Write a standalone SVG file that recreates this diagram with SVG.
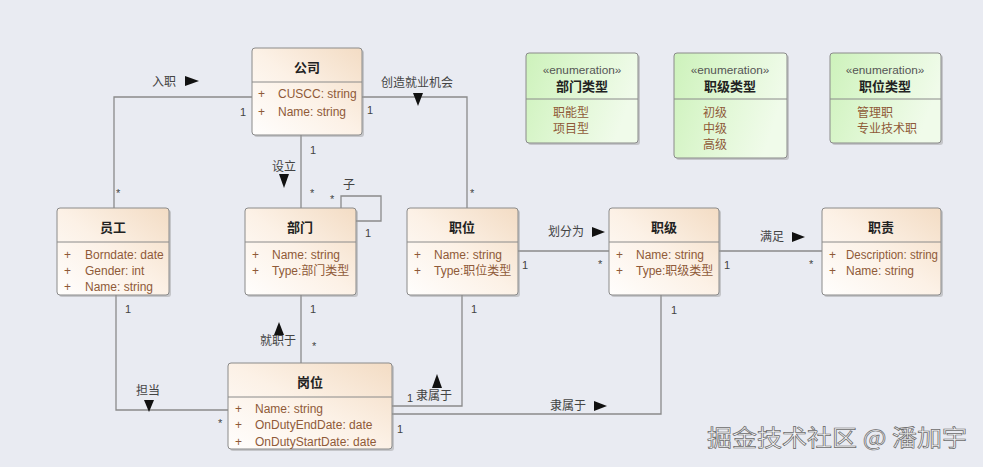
<svg xmlns="http://www.w3.org/2000/svg" width="983" height="467" viewBox="0 0 983 467">
<style>
.cls{stroke:#8a8a8a;stroke-width:1;fill:url(#gc)}
.enm{stroke:#8a8a8a;stroke-width:1;fill:url(#ge)}
.sh{fill:#9a9a9a;opacity:0.45}
.sep{stroke:#8a8a8a;stroke-width:1}
.t{font-family:'Noto Sans CJK SC','Liberation Sans',sans-serif;font-size:13px;font-weight:bold;fill:#222;text-anchor:middle}
.st{font-family:'Liberation Sans','Noto Sans CJK SC',sans-serif;font-size:11.8px;fill:#555;text-anchor:middle}
.a{font-family:'Liberation Sans','Noto Sans CJK SC',sans-serif;font-size:12px;fill:#8f5a38}
.ei{font-family:'Noto Sans CJK SC',sans-serif;font-size:12px;fill:#8f5a38}
.c{fill:none;stroke:#8a8a8a;stroke-width:1.3}
.lb{font-family:'Noto Sans CJK SC',sans-serif;font-size:12px;fill:#444}
.m{font-family:'Liberation Sans',sans-serif;font-size:11px;fill:#444}
.ar{fill:#111}
.wm{font-family:'Noto Sans CJK SC',sans-serif;font-size:23px;fill:#f6f6f8;stroke:#6a6a6a;stroke-width:0.7}
</style>
<defs>
<linearGradient id="gc" x1="0" y1="1" x2="1" y2="0">
<stop offset="0" stop-color="#fffefd"/>
<stop offset="0.5" stop-color="#fcf1e6"/>
<stop offset="1" stop-color="#f3dcc4"/>
</linearGradient>
<linearGradient id="ge" x1="0" y1="0" x2="1" y2="0.3">
<stop offset="0" stop-color="#cdf2bb"/>
<stop offset="0.6" stop-color="#e3f8d8"/>
<stop offset="1" stop-color="#f0fbea"/>
</linearGradient>
</defs>
<rect x="0" y="0" width="983" height="467" fill="#e9ebf2"/>

<g id="connectors">
<path class="c" d="M252,97 H114 V208"/>
<text class="lb" x="152" y="86">入职</text>
<polygon class="ar" points="185,76 199,81 185,86"/>
<text class="m" x="240" y="116">1</text>
<text class="m" x="116" y="197">*</text>

<path class="c" d="M362,97 H467 V208"/>
<text class="lb" x="381" y="87">创造就业机会</text>
<polygon class="ar" points="413,93 423,93 418,106"/>
<text class="m" x="367" y="114">1</text>
<text class="m" x="470" y="197">*</text>

<path class="c" d="M301,135 V208"/>
<text class="m" x="310" y="154">1</text>
<text class="lb" x="272" y="171">设立</text>
<polygon class="ar" points="279,174 289,174 284,188"/>
<text class="m" x="310" y="197">*</text>

<path class="c" d="M341,208 V196 H381 V221 H356"/>
<text class="lb" x="343" y="189">子</text>
<text class="m" x="330" y="203">*</text>
<text class="m" x="365" y="237">1</text>

<path class="c" d="M116,295 V410 H228"/>
<text class="m" x="125" y="313">1</text>
<text class="lb" x="136" y="395">担当</text>
<polygon class="ar" points="144,400 154,400 149,412"/>
<text class="m" x="218" y="427">*</text>

<path class="c" d="M301,295 V363"/>
<text class="m" x="310" y="313">1</text>
<text class="lb" x="260" y="345">就职于</text>
<polygon class="ar" points="279,322 284,335 274,335"/>
<text class="m" x="312" y="350">*</text>

<path class="c" d="M462,295 V406 H392"/>
<text class="m" x="471" y="313">1</text>
<text class="m" x="407" y="402">1</text>
<text class="lb" x="416" y="400">隶属于</text>
<polygon class="ar" points="437,374 442,388 432,388"/>

<path class="c" d="M661,295 V414 H392"/>
<text class="m" x="671" y="314">1</text>
<text class="lb" x="550" y="410">隶属于</text>
<polygon class="ar" points="594,401 607,406 594,411"/>
<text class="m" x="397" y="433">1</text>

<path class="c" d="M518,251 H609"/>
<text class="m" x="522" y="269">1</text>
<text class="m" x="598" y="268">*</text>
<text class="lb" x="548" y="236">划分为</text>
<polygon class="ar" points="592,227 605,232 592,237"/>

<path class="c" d="M719,251 H822"/>
<text class="m" x="724" y="269">1</text>
<text class="m" x="809" y="268">*</text>
<text class="lb" x="760" y="241">满足</text>
<polygon class="ar" points="792,232 805,237 792,242"/>
</g>

<g id="gongsi">
<rect class="sh" x="254" y="50" width="110" height="87" rx="3"/>
<rect class="cls" x="252" y="48" width="110" height="87" rx="3"/>
<line class="sep" x1="252" y1="82" x2="362" y2="82"/>
<text class="t" x="307" y="72">公司</text>
<text class="a" x="258" y="98">+</text><text class="a" x="278" y="98">CUSCC: string</text>
<text class="a" x="258" y="116">+</text><text class="a" x="278" y="116">Name: string</text>
</g>

<g id="yuangong">
<rect class="sh" x="59" y="210" width="112" height="87" rx="3"/>
<rect class="cls" x="57" y="208" width="112" height="87" rx="3"/>
<line class="sep" x1="57" y1="242" x2="169" y2="242"/>
<text class="t" x="113" y="232">员工</text>
<text class="a" x="64" y="259">+</text><text class="a" x="85" y="259">Borndate: date</text>
<text class="a" x="64" y="275">+</text><text class="a" x="85" y="275">Gender: int</text>
<text class="a" x="64" y="291">+</text><text class="a" x="85" y="291">Name: string</text>
</g>

<g id="bumen">
<rect class="sh" x="247" y="210" width="111" height="87" rx="3"/>
<rect class="cls" x="245" y="208" width="111" height="87" rx="3"/>
<line class="sep" x1="245" y1="242" x2="356" y2="242"/>
<text class="t" x="300" y="232">部门</text>
<text class="a" x="252" y="259">+</text><text class="a" x="272" y="259">Name: string</text>
<text class="a" x="252" y="275">+</text><text class="a" x="272" y="275">Type:部门类型</text>
</g>

<g id="zhiwei">
<rect class="sh" x="409" y="210" width="111" height="87" rx="3"/>
<rect class="cls" x="407" y="208" width="111" height="87" rx="3"/>
<line class="sep" x1="407" y1="242" x2="518" y2="242"/>
<text class="t" x="462" y="232">职位</text>
<text class="a" x="414" y="259">+</text><text class="a" x="434" y="259">Name: string</text>
<text class="a" x="414" y="275">+</text><text class="a" x="434" y="275">Type:职位类型</text>
</g>

<g id="zhiji">
<rect class="sh" x="611" y="210" width="110" height="87" rx="3"/>
<rect class="cls" x="609" y="208" width="110" height="87" rx="3"/>
<line class="sep" x1="609" y1="242" x2="719" y2="242"/>
<text class="t" x="664" y="232">职级</text>
<text class="a" x="616" y="259">+</text><text class="a" x="636" y="259">Name: string</text>
<text class="a" x="616" y="275">+</text><text class="a" x="636" y="275">Type:职级类型</text>
</g>

<g id="zhize">
<rect class="sh" x="824" y="210" width="119" height="87" rx="3"/>
<rect class="cls" x="822" y="208" width="119" height="87" rx="3"/>
<line class="sep" x1="822" y1="242" x2="941" y2="242"/>
<text class="t" x="881" y="232">职责</text>
<text class="a" x="829" y="259">+</text><text class="a" x="846" y="259" textLength="92" lengthAdjust="spacingAndGlyphs">Description: string</text>
<text class="a" x="829" y="275">+</text><text class="a" x="846" y="275">Name: string</text>
</g>

<g id="gangwei">
<rect class="sh" x="230" y="365" width="164" height="86" rx="3"/>
<rect class="cls" x="228" y="363" width="164" height="86" rx="3"/>
<line class="sep" x1="228" y1="397" x2="392" y2="397"/>
<text class="t" x="310" y="387">岗位</text>
<text class="a" x="235" y="413">+</text><text class="a" x="255" y="413">Name: string</text>
<text class="a" x="235" y="429">+</text><text class="a" x="255" y="429">OnDutyEndDate: date</text>
<text class="a" x="235" y="446">+</text><text class="a" x="255" y="446">OnDutyStartDate: date</text>
</g>

<g id="enum-bumenleixing">
<rect class="sh" x="528" y="55" width="112" height="90" rx="3"/>
<rect class="enm" x="526" y="53" width="112" height="90" rx="3"/>
<line class="sep" x1="526" y1="99" x2="638" y2="99"/>
<text class="st" x="582" y="74">«enumeration»</text>
<text class="t" x="582" y="91">部门类型</text>
<text class="ei" x="553" y="117">职能型</text>
<text class="ei" x="553" y="133">项目型</text>
</g>

<g id="enum-zhijileixing">
<rect class="sh" x="676" y="55" width="113" height="105" rx="3"/>
<rect class="enm" x="674" y="53" width="113" height="105" rx="3"/>
<line class="sep" x1="674" y1="99" x2="787" y2="99"/>
<text class="st" x="730" y="74">«enumeration»</text>
<text class="t" x="730" y="91">职级类型</text>
<text class="ei" x="703" y="117">初级</text>
<text class="ei" x="703" y="133">中级</text>
<text class="ei" x="703" y="149">高级</text>
</g>

<g id="enum-zhiweileixing">
<rect class="sh" x="832" y="55" width="111" height="90" rx="3"/>
<rect class="enm" x="830" y="53" width="111" height="90" rx="3"/>
<line class="sep" x1="830" y1="99" x2="941" y2="99"/>
<text class="st" x="885" y="74">«enumeration»</text>
<text class="t" x="885" y="91">职位类型</text>
<text class="ei" x="857" y="117">管理职</text>
<text class="ei" x="857" y="133">专业技术职</text>
</g>

<text class="wm" x="707" y="446" textLength="260" lengthAdjust="spacingAndGlyphs">掘金技术社区 @ 潘加宇</text>
</svg>
